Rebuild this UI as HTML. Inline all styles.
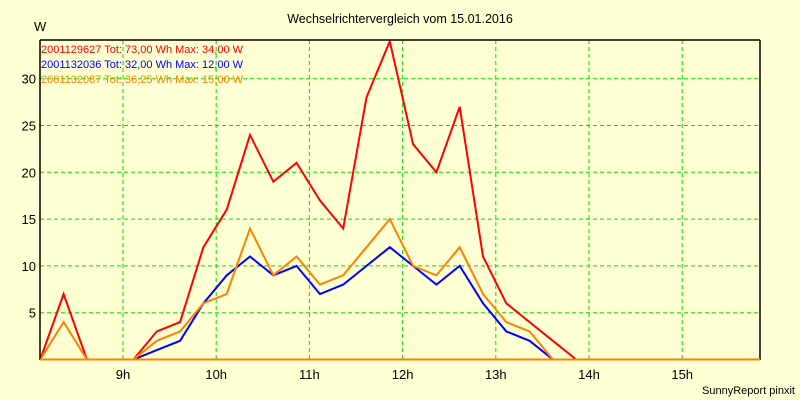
<!DOCTYPE html>
<html><head><meta charset="utf-8"><style>
body{margin:0;background:#ffffd4;}
svg{display:block;font-family:"Liberation Sans",sans-serif;}
</style></head><body>
<svg id="chart" width="800" height="400" viewBox="0 0 800 400">
<rect x="0" y="0" width="800" height="400" fill="#ffffd4"/>
<text x="400" y="23" font-size="12.5" text-anchor="middle" fill="#000">Wechselrichtervergleich vom 15.01.2016</text>
<text x="34" y="31" font-size="13" fill="#000">W</text>
<text x="795" y="394" font-size="11" text-anchor="end" fill="#000">SunnyReport pinxit</text>
<g id="grid"></g>
<defs><clipPath id="clip"><rect x="40" y="40" width="720" height="320"/></clipPath></defs>
<g id="series" clip-path="url(#clip)"></g>
<g id="axes"></g>
<g font-size="11">
<text x="41" y="53" fill="#ff0000">2001129627 Tot: 73,00 Wh Max: 34,00 W</text>
<text x="41" y="68" fill="#0000ff">2001132036 Tot: 32,00 Wh Max: 12,00 W</text>
<text x="41" y="83" fill="#ff8000">2001132087 Tot: 36,25 Wh Max: 15,00 W</text>
</g>
</svg>
<script>
const hourTicks=[9,10,11,12,13,14,15];
const hourLabels=["9h","10h","11h","12h","13h","14h","15h"];
const yTicks=[5,10,15,20,25,30];
const redValues=[0,7,0,0,0,3,4,12,16,24,19,21,17,14,28,34,23,20,27,11,6,4,2,0];
const blueValues=[0,0,0,0,0,1,2,6,9,11,9,10,7,8,10,12,10,8,10,6,3,2,0];
const orangeValues=[0,4,0,0,0,2,3,6,7,14,9,11,8,9,12,15,10,9,12,7,4,3,0,0,0,0,0,0,0,0,0,0];
const startHour=8.113, stepHour=0.25;
const NS="http://www.w3.org/2000/svg";
function xs(h){return 123+93.2*(h-9);}
function ys(v){return 359.5-9.36*v;}
function mk(tag,attrs,parent){const e=document.createElementNS(NS,tag);for(const k in attrs)e.setAttribute(k,attrs[k]);parent.appendChild(e);return e;}
const grid=document.getElementById('grid'),axes=document.getElementById('axes'),series=document.getElementById('series');
hourTicks.forEach((h,i)=>{
  const l=mk('line',{x1:xs(h),x2:xs(h),y1:40,y2:359,stroke:'#00e000','stroke-width':1,'stroke-dasharray':'4,3'},grid);
  
  
  const t=mk('text',{x:xs(h),y:379,'font-size':13,'text-anchor':'middle',fill:'#000'},axes);
  t.textContent=hourLabels[i];
  
  
});
yTicks.forEach(v=>{
  const l=mk('line',{x1:40,x2:760,y1:ys(v),y2:ys(v),stroke:'#00e000','stroke-width':1,'stroke-dasharray':'4,3'},grid);
  
  
  const t=mk('text',{x:36,y:ys(v)+5,'font-size':13,'text-anchor':'end',fill:'#000'},axes);
  t.textContent=v;
  
  
});
[[40,40,760,40],[40,40,40,360],[760,40,760,360]].forEach(a=>{
  const l=mk('line',{x1:a[0],y1:a[1],x2:a[2],y2:a[3],stroke:'#000','stroke-width':1.5},axes);
  
  
});
function drawSeries(vals,color,name){
  const pts=vals.map((v,i)=>xs(startHour+stepHour*i).toFixed(1)+','+ys(v).toFixed(1)).join(' ');
  const p=mk('polyline',{points:pts,fill:'none',stroke:color,'stroke-width':2,'stroke-linejoin':'miter'},series);
  
  
}
drawSeries(blueValues,'#0000ff','series-2001132036');
drawSeries(redValues,'#ff0000','series-2001129627');
drawSeries(orangeValues,'#ff8000','series-2001132087');
const base=mk('line',{x1:40,x2:760,y1:359.5,y2:359.5,stroke:'#ff8000','stroke-width':2},axes);


</script>
</body></html>
